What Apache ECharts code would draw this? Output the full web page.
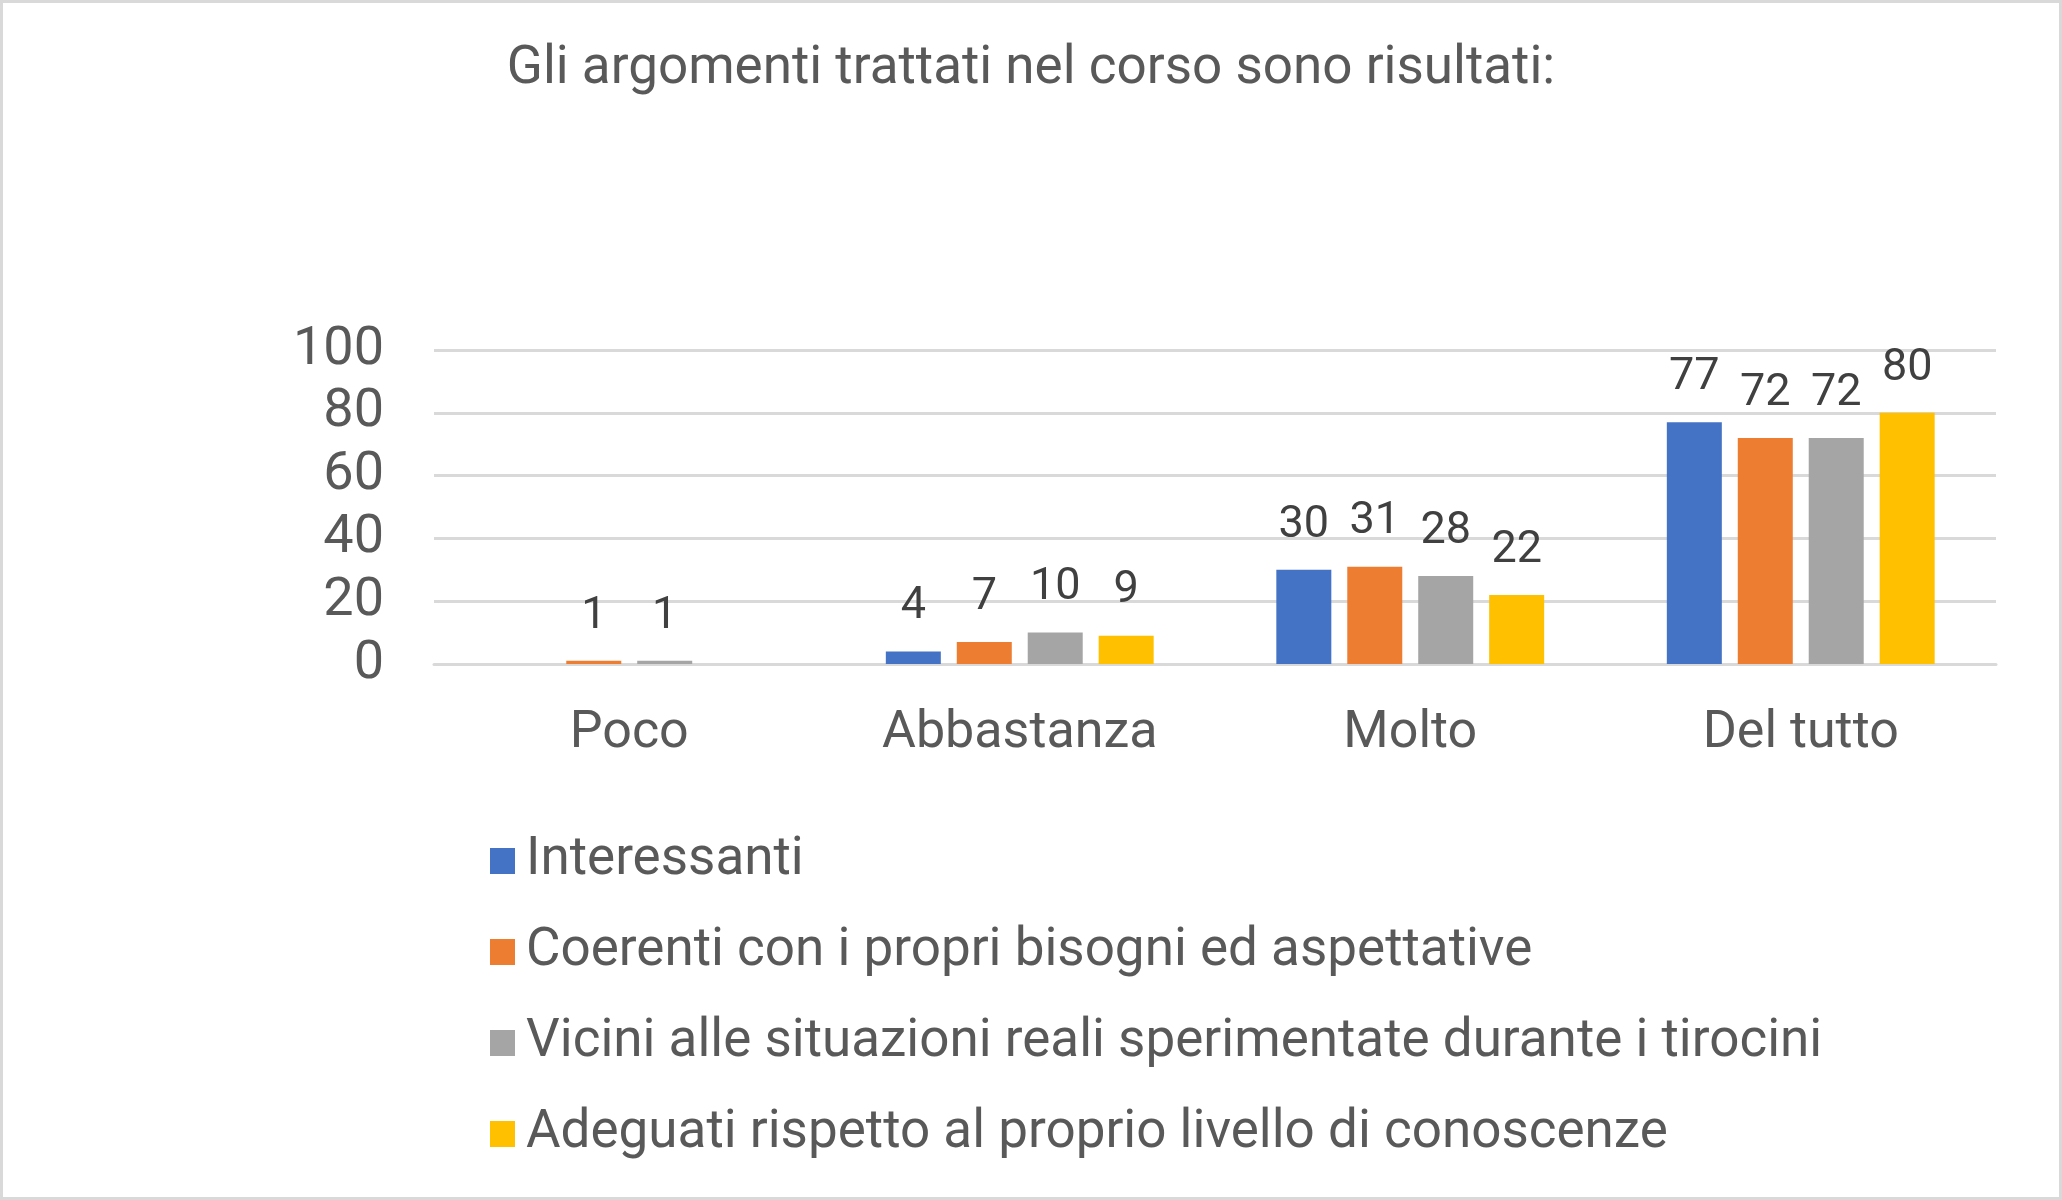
<!DOCTYPE html>
<html><head><meta charset="utf-8">
<script src="https://cdn.jsdelivr.net/npm/echarts@6/dist/echarts.min.js"></script>
<style>html,body{margin:0;padding:0;background:#fff}#c{width:2062px;height:1200px}</style>
</head><body><div id="c"></div>
<script>
const categories = ['Poco', 'Abbastanza', 'Molto', 'Del tutto'];
const seriesNames = ['Interessanti', 'Coerenti con i propri bisogni ed aspettative', 'Vicini alle situazioni reali sperimentate durante i tirocini', 'Adeguati rispetto al proprio livello di conoscenze'];
const interessanti = [null, 4, 30, 77];
const coerenti = [1, 7, 31, 72];
const vicini = [1, 10, 28, 72];
const adeguati = [null, 9, 22, 80];
const yTicks = [0, 20, 40, 60, 80, 100];
const colors = ['#4472C4', '#ED7D31', '#A5A5A5', '#FFC000'];

const FONT = 'Roboto, sans-serif';
const values = [interessanti, coerenti, vicini, adeguati];
const chart = echarts.init(document.getElementById('c'), null, {renderer: 'canvas'});
chart.setOption({
  backgroundColor: '#fff',
  animation: false,
  title: {
    text: 'Gli argomenti trattati nel corso sono risultati:',
    left: 'center', top: 38,
    textStyle: {fontFamily: FONT, fontSize: 53, fontWeight: 'normal', color: '#595959'}
  },
  graphic: [{type: 'rect', shape: {x: 1.5, y: 1.5, width: 2059, height: 1197}, style: {fill: 'none', stroke: '#d9d9d9', lineWidth: 3}, silent: true}],
  grid: {left: 434, right: 66, top: 350, height: 314, containLabel: false},
  legend: {
    orient: 'vertical', left: 485, top: 829,
    itemWidth: 25, itemHeight: 26, itemGap: 37,
    icon: 'rect',
    textStyle: {fontFamily: FONT, fontSize: 53, color: '#595959', lineHeight: 54, padding: [0,0,0,6]},
    data: seriesNames
  },
  xAxis: {
    type: 'category', data: categories,
    axisLine: {lineStyle: {color: '#d9d9d9', width: 3}},
    axisTick: {show: false},
    axisLabel: {fontFamily: FONT, fontSize: 52, color: '#595959', margin: 44}
  },
  yAxis: {
    type: 'value', min: 0, max: 100, interval: 20,
    axisLine: {show: false}, axisTick: {show: false},
    splitLine: {lineStyle: {color: '#d9d9d9', width: 3}},
    axisLabel: {fontFamily: FONT, fontSize: 54, color: '#595959', margin: 50,
      formatter: v => yTicks.includes(v) ? String(v) : ''}
  },
  series: values.map((vals, i) => ({
    name: seriesNames[i], type: 'bar', data: vals,
    barWidth: 55, barGap: '29%',
    itemStyle: {color: colors[i]},
    label: {show: true, position: 'top', distance: 22, fontFamily: FONT, fontSize: 45, color: '#404040'}
  }))
});
</script></body></html>
